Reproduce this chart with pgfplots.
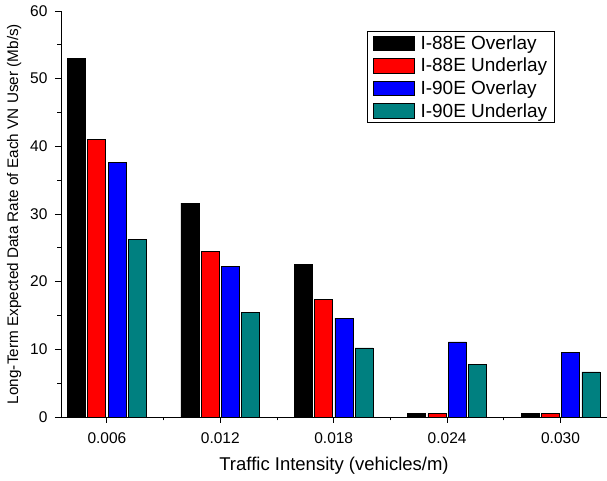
\documentclass[border=0pt]{standalone}
\usepackage{fontspec}
\setmainfont{Liberation Sans}
\usepackage{pgfplots}
\pgfplotsset{compat=1.18}
\definecolor{vnteal}{RGB}{0,128,128}

\begin{document}
\begin{tikzpicture}
% fix the page to the reference's margins round the axis box
\useasboundingbox (-61pt,-64pt) rectangle (546pt,417pt);
\begin{axis}[
    at={(0pt,0pt)}, anchor=south west,
    scale only axis,
    width=546pt, height=406pt,
    xmin=-0.405, xmax=4.41,
    ymin=0, ymax=60,
    axis lines*=left,
    axis line style={line width=0.9pt},
    ybar=2.3pt,
    bar width=18pt,
    xtick={0,1,2,3,4},
    xticklabels={0.006,0.012,0.018,0.024,0.030},
    minor xtick={0.5,1.5,2.5,3.5},
    ytick={0,10,...,60},
    minor y tick num=1,
    tick align=outside,
    major tick length=6pt,
    minor tick length=3.5pt,
    tick style={line width=0.9pt, black},
    /pgf/number format/assume math mode=true,
    ticklabel style={font=\fontsize{15.5}{17}\selectfont},
    xticklabel style={yshift=-6pt},
    yticklabel style={xshift=-4pt},
    xlabel={Traffic Intensity (vehicles/m)},
    ylabel={Long-Term Expected Data Rate of Each VN User (Mb/s)},
    xlabel style={font=\fontsize{18.5}{20}\selectfont, yshift=-7pt},
    ylabel style={font=\fontsize{15.3}{17}\selectfont, yshift=2pt},
    legend style={at={(0.5604,0.95)}, anchor=north west,
        font=\fontsize{19}{21}\selectfont, draw=black, line width=0.7pt,
        row sep=4.3pt, inner xsep=5.5pt, inner ysep=2.5pt,
        nodes={inner sep=1.5pt},
        /tikz/every odd column/.append style={column sep=4.5pt}},
    legend cell align=left,
    legend image code/.code={\draw[#1, line width=0.7pt] (0pt,-7.3pt) rectangle (41pt,7.3pt);},
    every axis plot/.append style={draw=black, line width=0.7pt},
]
\addplot[fill=black] coordinates {(0,53.0) (1,31.6) (2,22.5) (3,0.5) (4,0.5)};
\addlegendentry{I-88E Overlay}
\addplot[fill=red] coordinates {(0,41.0) (1,24.5) (2,17.4) (3,0.5) (4,0.5)};
\addlegendentry{I-88E Underlay}
\addplot[fill=blue] coordinates {(0,37.6) (1,22.3) (2,14.6) (3,11.1) (4,9.5)};
\addlegendentry{I-90E Overlay}
\addplot[fill=vnteal] coordinates {(0,26.3) (1,15.5) (2,10.2) (3,7.8) (4,6.65)};
\addlegendentry{I-90E Underlay}
\end{axis}
\end{tikzpicture}
\end{document}
